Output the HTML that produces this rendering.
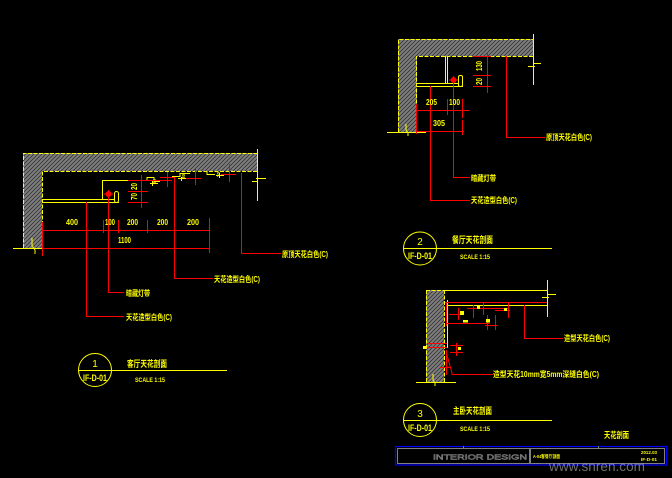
<!DOCTYPE html>
<html><head><meta charset="utf-8"><style>
html,body{margin:0;padding:0;background:#000;}
svg{display:block;}
text{font-family:"Liberation Sans","Noto Sans CJK SC",sans-serif;}
</style></head><body>
<svg width="672" height="478" viewBox="0 0 672 478" xmlns="http://www.w3.org/2000/svg">
<defs>
<pattern id="h" width="4" height="4" patternUnits="userSpaceOnUse">
<rect width="4" height="4" fill="#7e7e7e"/>
<path d="M-1,5 L5,-1 M-1,1 L1,-1 M3,5 L5,3" stroke="#333" stroke-width="0.8"/>
</pattern>
</defs>
<rect width="672" height="478" fill="#000"/>

<!-- ============ SECTION 1 ============ -->
<path d="M23,153 H257 V171 H42 V248 H23 Z" fill="url(#h)"/>
<g fill="none" stroke="#ff0" stroke-width="1">
<path d="M23.5,248 V153.5 H257" stroke-dasharray="4 1.5"/>
<path d="M257,171.5 H42.5 V248" stroke-dasharray="4 1.5"/>
<path d="M257.5,149 V201"/>
<path d="M252,181.5 H258 M256,178.5 H266"/>
<path d="M13,248.5 H42"/>
<path d="M32,238 V246 L35,250 V254"/>
<path d="M102.5,199 V180.5 H147 V177.5 H154 V181.5 H160"/>
<path d="M42,199.5 H114 M42,202.5 H119"/>
<rect x="114.5" y="191.5" width="4" height="11" rx="2"/>
<path d="M150,183.5 H158 M152.5,181 V186"/>
<path d="M172,176.5 H180 V173.5 H190 M178,178.5 H187 M181.5,177 V181"/>
<path d="M207,171 V174.5 H215 M216,175.5 H224 M219.5,173 V178"/>
</g>
<g fill="#ff0" font-size="4.5" font-weight="bold">
<text x="156" y="184" transform="rotate(-90 156 184)">20</text>
<text x="185" y="179" transform="rotate(-90 185 179)">20</text>
<text x="220" y="177" transform="rotate(-90 220 177)">20</text>
</g>
<g stroke="#f00" stroke-width="1" fill="none">
<path d="M141.5,175 V208 M128,180.5 H148 M128,191.5 H148 M128,202.5 H148"/>
<path d="M167.5,172 V187 M143,180.5 H172 M160,177.5 H175"/>
<path d="M195.5,169 V185 M186,178.5 H201"/>
<path d="M229.5,164 V182 M221,174.5 H236"/>
<path d="M42,230.5 H209 M42,248.5 H209"/>
<path d="M42.5,222 V256 M103.5,220 V233 M118.5,220 V233 M147.5,220 V233 M209.5,218 V253"/>
<path d="M86.5,202 V316.5 H124"/>
<path d="M108.5,194 V292.5 H124"/>
<path d="M174.5,177 V278.5 H213"/>
<path d="M241.5,173 V253.5 H281"/>
<circle cx="108.5" cy="194" r="2.5" fill="#f00"/>
<path d="M104,194 H113 M108.5,190 V198"/>
</g>
<g fill="#ff0" font-size="8" font-weight="bold">
<text x="66" y="225" textLength="12" lengthAdjust="spacingAndGlyphs">400</text>
<text x="105" y="225" textLength="10" lengthAdjust="spacingAndGlyphs">100</text>
<text x="127" y="225" textLength="11" lengthAdjust="spacingAndGlyphs">200</text>
<text x="157" y="225" textLength="11" lengthAdjust="spacingAndGlyphs">200</text>
<text x="187" y="225" textLength="12" lengthAdjust="spacingAndGlyphs">200</text>
<text x="118" y="243" textLength="13" lengthAdjust="spacingAndGlyphs">1100</text>
<text x="137" y="190" transform="rotate(-90 137 190)" textLength="7" lengthAdjust="spacingAndGlyphs">20</text>
<text x="137" y="200" transform="rotate(-90 137 200)" textLength="7" lengthAdjust="spacingAndGlyphs">70</text>
</g>
<g fill="#ff0" font-size="8" font-weight="bold">
<text x="282" y="257" textLength="46" lengthAdjust="spacingAndGlyphs">原顶天花白色(C)</text>
<text x="214" y="282" textLength="46" lengthAdjust="spacingAndGlyphs">天花造型白色(C)</text>
<text x="126" y="296" textLength="24" lengthAdjust="spacingAndGlyphs">暗藏灯带</text>
<text x="126" y="320" textLength="46" lengthAdjust="spacingAndGlyphs">天花造型白色(C)</text>
</g>
<g stroke="#ff0" fill="none" stroke-width="1">
<circle cx="95" cy="370" r="16.5"/>
<path d="M78.5,370.5 H227"/>
</g>
<g fill="#ff0" font-weight="bold">
<text x="95" y="367" font-size="10" font-weight="normal" text-anchor="middle">1</text>
<text x="83" y="381" font-size="9" textLength="24" lengthAdjust="spacingAndGlyphs">IF-D-01</text>
<text x="127" y="367" font-size="9" textLength="40" lengthAdjust="spacingAndGlyphs">客厅天花剖面</text>
<text x="135" y="382" font-size="6.5" textLength="30" lengthAdjust="spacingAndGlyphs">SCALE 1:15</text>
</g>

<!-- ============ SECTION 2 ============ -->
<path d="M398,39 H533 V56 H417 V132 H398 Z" fill="url(#h)"/>
<g fill="none" stroke="#ff0" stroke-width="1">
<path d="M398.5,132 V39.5 H533" stroke-dasharray="4 1.5"/>
<path d="M533,56.5 H416.5 V132" stroke-dasharray="4 1.5"/>
<path d="M533.5,34 V85"/>
<path d="M528,66.5 H535 M533,63.5 H541"/>
<path d="M387,132.5 H426"/>
<path d="M406,124 V130 L408,133 V136"/>
<path d="M445.5,56 V83 M447.5,56 V83"/>
<path d="M417,83.5 H459 M417,86.5 H463"/>
<rect x="458.5" y="75.5" width="4" height="11" rx="1.5"/>
</g>
<g stroke="#f00" stroke-width="1" fill="none">
<path d="M487.5,52 V93 M473,56.5 H491 M473,75.5 H491 M473,86.5 H491"/>
<path d="M416,110.5 H470 M416,131.5 H464"/>
<path d="M416.5,104 V134 M447.5,99 V115 M462.5,99 V118 M462.5,120 V135"/>
<path d="M430.5,86 V200.5 H470"/>
<path d="M453.5,80 V177.5 H470"/>
<path d="M506.5,56 V137.5 H545"/>
<circle cx="453.5" cy="80" r="2.5" fill="#f00"/>
<path d="M449,80 H458 M453.5,76 V84"/>
</g>
<g fill="#ff0" font-size="8" font-weight="bold">
<text x="426" y="105" textLength="11" lengthAdjust="spacingAndGlyphs">205</text>
<text x="449" y="105" textLength="11" lengthAdjust="spacingAndGlyphs">100</text>
<text x="433" y="126" textLength="12" lengthAdjust="spacingAndGlyphs">305</text>
<text x="482" y="71" transform="rotate(-90 482 71)" textLength="10" lengthAdjust="spacingAndGlyphs">130</text>
<text x="482" y="85" transform="rotate(-90 482 85)" textLength="7" lengthAdjust="spacingAndGlyphs">20</text>
<text x="546" y="140" textLength="46" lengthAdjust="spacingAndGlyphs">原顶天花白色(C)</text>
<text x="471" y="181" textLength="25" lengthAdjust="spacingAndGlyphs">暗藏灯带</text>
<text x="471" y="203" textLength="46" lengthAdjust="spacingAndGlyphs">天花造型白色(C)</text>
</g>
<g stroke="#ff0" fill="none" stroke-width="1">
<circle cx="420" cy="248.5" r="16.5"/>
<path d="M403.5,248.5 H552"/>
</g>
<g fill="#ff0" font-weight="bold">
<text x="420" y="245" font-size="10" font-weight="normal" text-anchor="middle">2</text>
<text x="408" y="259" font-size="9" textLength="24" lengthAdjust="spacingAndGlyphs">IF-D-01</text>
<text x="452" y="243" font-size="9" textLength="41" lengthAdjust="spacingAndGlyphs">餐厅天花剖面</text>
<text x="460" y="259" font-size="6.5" textLength="30" lengthAdjust="spacingAndGlyphs">SCALE 1:15</text>
</g>

<!-- ============ SECTION 3 ============ -->
<rect x="426" y="290" width="18" height="92" fill="url(#h)"/>
<g fill="none" stroke="#ff0" stroke-width="1">
<path d="M426.5,290 V382 M444.5,290 V382 M426,290.5 H444" stroke-dasharray="4 1.5"/>
<path d="M444,290.5 H547"/>
<path d="M547.5,280 V317"/>
<path d="M542,297.5 H549 M547,294.5 H556"/>
<path d="M446,305.5 H547"/>
<path d="M447.5,300 V348"/>
<path d="M416,382.5 H456"/>
<path d="M433,374 V380 L435,383 V386"/>
</g>
<g stroke="#f00" stroke-width="1" fill="none">
<path d="M445,302.5 H547"/>
<path d="M446.5,302 V326"/>
<path d="M467,308.5 H508 M449,314.5 H464 M495,310.5 H510"/>
<path d="M458.5,308 V320 M473.5,305 V318 M483.5,303 V315 M508.5,303 V318"/>
<path d="M447,323.5 H490 M485,325.5 H497 M487.5,315 V330 M495.5,315 V330"/>
<path d="M427,343.5 H447 M427,347.5 H447"/>
<path d="M456.5,343 V356 M450,345.5 H463 M450,352.5 H463"/>
<path d="M446.5,350 V375 M440,367.5 H450"/>
<path d="M447,355 L452,373 V374.5 H493"/>
<path d="M524.5,305 V338.5 H563"/>
</g>
<g fill="#ff0">
<rect x="460" y="311" width="4" height="4"/>
<rect x="463" y="320" width="5" height="2.5"/>
<rect x="486" y="319" width="4" height="3.5"/>
<rect x="477" y="306" width="3" height="3"/>
<rect x="504" y="308" width="3" height="3"/>
<rect x="458" y="347" width="3" height="3"/>
<rect x="423" y="346" width="3" height="3"/>
</g>
<g fill="#ff0" font-size="8" font-weight="bold">
<text x="564" y="341" textLength="46" lengthAdjust="spacingAndGlyphs">造型天花白色(C)</text>
<text x="493" y="377" textLength="106" lengthAdjust="spacingAndGlyphs">造型天花10mm宽5mm深缝白色(C)</text>
</g>
<g stroke="#ff0" fill="none" stroke-width="1">
<circle cx="420" cy="420" r="16.5"/>
<path d="M403.5,420.5 H552"/>
</g>
<g fill="#ff0" font-weight="bold">
<text x="420" y="417" font-size="10" font-weight="normal" text-anchor="middle">3</text>
<text x="408" y="431" font-size="9" textLength="24" lengthAdjust="spacingAndGlyphs">IF-D-01</text>
<text x="453" y="414" font-size="9" textLength="39" lengthAdjust="spacingAndGlyphs">主卧天花剖面</text>
<text x="460" y="431" font-size="6.5" textLength="30" lengthAdjust="spacingAndGlyphs">SCALE 1:15</text>
<text x="604" y="438" font-size="8.5" textLength="25" lengthAdjust="spacingAndGlyphs">天花剖面</text>
</g>

<!-- ============ TITLE BLOCK ============ -->
<rect x="395.5" y="446.5" width="271" height="18.5" fill="none" stroke="#00f" stroke-width="1.2"/>
<rect x="397.5" y="448.5" width="267" height="15" fill="none" stroke="#808080" stroke-width="1"/>
<path d="M530,448 V464" stroke="#808080" stroke-width="2"/>
<path d="M463.5,446 V449 M598.5,446 V449" stroke="#808080" stroke-width="1"/>
<text x="433" y="459.5" font-size="7.5" fill="#000" stroke="#8a8a8a" stroke-width="0.5" font-family="Liberation Serif, serif" textLength="94" lengthAdjust="spacingAndGlyphs">INTERIOR DESIGN</text>
<text x="533" y="458" font-size="4.5" fill="#ff0" font-weight="bold" textLength="27" lengthAdjust="spacingAndGlyphs">A-04客餐厅剖面</text>
<text x="641" y="454" font-size="4.5" fill="#ff0" font-weight="bold" textLength="16" lengthAdjust="spacingAndGlyphs">2012.03</text>
<text x="641" y="461" font-size="4.5" fill="#ff0" font-weight="bold" textLength="16" lengthAdjust="spacingAndGlyphs">IF-D-01</text>
<text x="549" y="471" font-size="14" fill="#b8b8b8" fill-opacity="0.6" textLength="96" lengthAdjust="spacingAndGlyphs">www.snren.com</text>
</svg>
</body></html>
